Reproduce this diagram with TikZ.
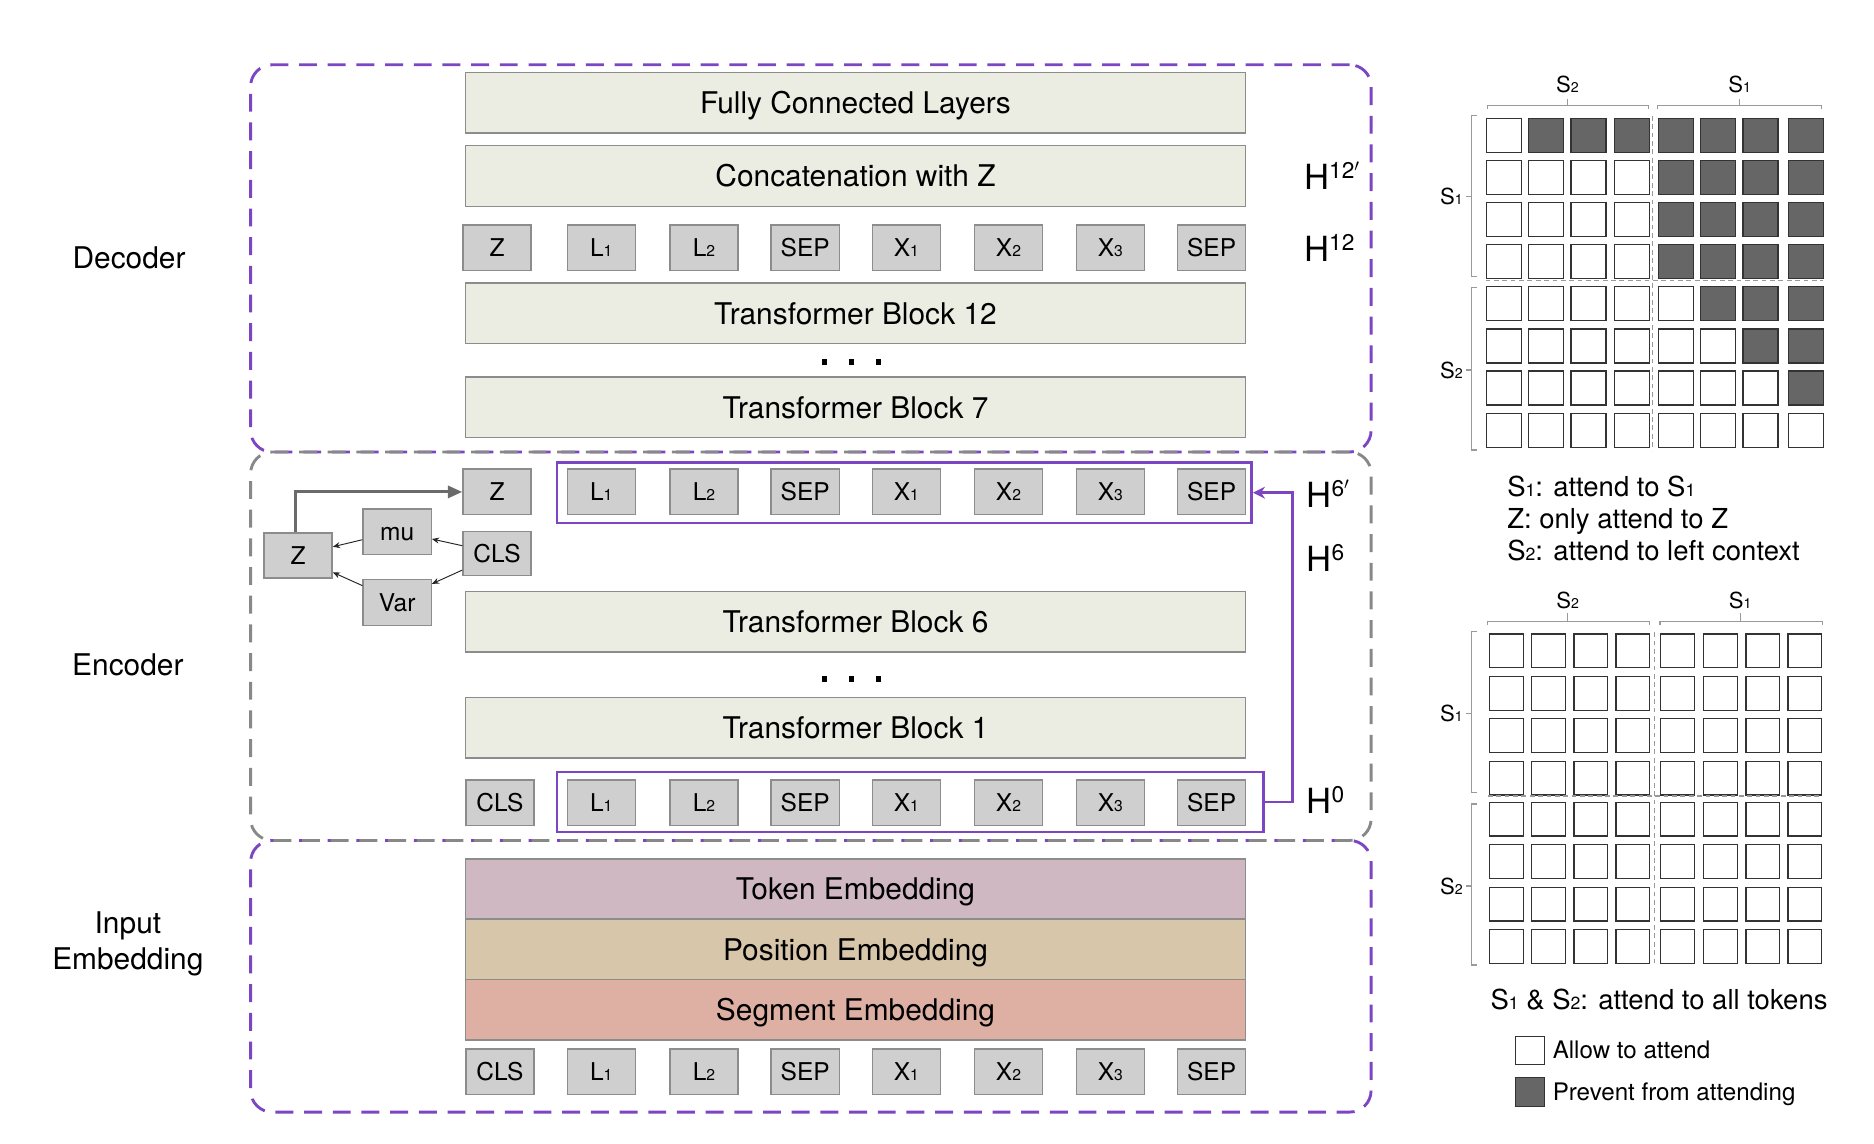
\documentclass[tikz,border=0pt]{standalone}
\usepackage{fontspec}
\setmainfont{TeX Gyre Heros}
\usepackage{graphicx}
\usetikzlibrary{arrows.meta,calc}
\definecolor{boxgreen}{HTML}{EBEDE3}
\definecolor{tokgray}{HTML}{CFCFCF}
\definecolor{edgegray}{HTML}{8C8C8C}
\definecolor{vpurple}{HTML}{7B45C3}
\definecolor{dashgray}{HTML}{888888}
\definecolor{tokemb}{HTML}{CFB8C2}
\definecolor{posemb}{HTML}{D8C6AA}
\definecolor{segemb}{HTML}{DEB0A4}
\definecolor{celldark}{HTML}{666666}
\definecolor{brkgray}{HTML}{9A9A9A}
\newcommand\sbs[1]{\scalebox{0.64}{#1}}
\newcommand\hsup[1]{\raisebox{9pt}{\fontsize{19}{19}\selectfont #1}}
\begin{document}
\begin{tikzpicture}[x=1pt,y=-1pt,
  wide/.style={draw=edgegray, line width=1.2pt, minimum width=653pt, minimum height=50.7pt,
    inner sep=0pt, anchor=north west, text height=18pt, text depth=0pt,
    font=\fontsize{25}{25}\selectfont},
  tok/.style={draw=edgegray, fill=tokgray, line width=1.2pt, minimum width=57pt,
    minimum height=38.2pt, inner sep=0pt, anchor=north west, text height=14.7pt,
    text depth=0pt, font=\fontsize{20.5}{20.5}\selectfont},
  region/.style={draw=#1, line width=2.4pt, dash pattern=on 15pt off 9pt,
    rounded corners=18pt, inner sep=0pt, anchor=north west, minimum width=937.5pt},
  hilite/.style={draw=vpurple, line width=2.3pt, inner sep=0pt, anchor=north west},
  hlab/.style={anchor=base west, inner sep=0pt, font=\fontsize{29}{29}\selectfont},
  side/.style={anchor=base, inner sep=0pt, font=\fontsize{25}{25}\selectfont},
  rtxt/.style={anchor=base west, inner sep=0pt, font=\fontsize{23}{23}\selectfont},
  ltxt/.style={anchor=base west, inner sep=0pt, font=\fontsize{20.2}{20.2}\selectfont},
  slab/.style={inner sep=0pt, font=\fontsize{18.5}{18.5}\selectfont},
  cell/.style={draw=black!80, line width=1pt, inner sep=0pt, anchor=north west},
  brk/.style={draw=brkgray, line width=1pt},
  sepline/.style={draw=black!40, line width=0.9pt, dash pattern=on 4pt off 3pt},
  thinarrow/.style={draw=black!85, line width=0.8pt, -{Stealth[length=6pt,width=5pt]}},
  thickarrow/.style={draw=black!58, line width=2.6pt, -{Triangle[length=12pt,width=10pt]}},
  purplearrow/.style={draw=vpurple, line width=2.3pt, -{Stealth[length=10pt,width=10pt]}},
  dotmark/.style={fill=black}
]
\useasboundingbox (0,0) rectangle (1568,957);

% region boxes
\node[region=vpurple, minimum height=324pt] (decbox) at (208.5,53) {};
\node[region=vpurple, minimum height=227.3pt] (inbox) at (208.5,702) {};
\node[region=dashgray, minimum height=325pt] (encbox) at (208.5,377) {};

% side labels
\node[side] (declab) at (108,225) {Decoder};
\node[side] (enclab) at (107,565) {Encoder};
\node[side] (inlab1) at (107,781) {Input};
\node[side] (inlab2) at (107,811) {Embedding};

% decoder
\node[wide, fill=boxgreen] (fcl) at (388.7,60) {Fully Connected Layers};
\node[wide, fill=boxgreen] (cat) at (388.7,121.3) {Concatenation with Z};
\node[wide, fill=boxgreen] (tb12) at (388.7,236.2) {Transformer Block 12};
\node[wide, fill=boxgreen] (tb7) at (388.7,314.9) {Transformer Block 7};
\foreach \dx in {690,712.4,735}{\fill[dotmark] (\dx-2.3,303-2.3) rectangle (\dx+2.3,303+2.3);}

% encoder
\node[wide, fill=boxgreen] (tb6) at (388.7,494.2) {Transformer Block 6};
\node[wide, fill=boxgreen] (tb1) at (388.7,582.9) {Transformer Block 1};
\foreach \dx in {690,712.4,735}{\fill[dotmark] (\dx-2.3,568-2.3) rectangle (\dx+2.3,568+2.3);}

% input embedding
\node[wide, fill=tokemb, minimum height=50.2pt] (temb) at (388.7,718.2) {Token Embedding};
\node[wide, fill=posemb, minimum height=50.7pt] (pemb) at (388.7,768.4) {Position Embedding};
\node[wide, fill=segemb, minimum height=50.5pt] (semb) at (388.7,819.1) {Segment Embedding};

% token rows
\node[tok] (dz) at (386.8,187.7) {Z};
\node[tok] (ez) at (386.8,391.9) {Z};
\node[tok] (ecls) at (389.2,652) {CLS};
\node[tok] (icls) at (389.2,877.1) {CLS};
\foreach \i/\lab/\x in {1/L\sbs{1}/474, 2/L\sbs{2}/559.9, 3/SEP/644.6, 4/X\sbs{1}/729.3,
    5/X\sbs{2}/814.7, 6/X\sbs{3}/900, 7/SEP/984.7}{
  \node[tok] (d\i) at (\x,187.7) {\lab};
  \node[tok] (e\i) at (\x,391.9) {\lab};
  \node[tok] (b\i) at (\x,652) {\lab};
  \node[tok] (in\i) at (\x,877.1) {\lab};
}

% highlight rectangles
\node[hilite, minimum width=581.3pt, minimum height=50.8pt] (ptop) at (464.8,385.7) {};
\node[hilite, minimum width=591.1pt, minimum height=50.2pt] (pbot) at (464.8,644.8) {};
\coordinate (turnx) at (1081.7,0);
\draw[purplearrow] (pbot.east) -| (turnx |- ptop.east) -- (ptop.east);

% mini graph
\node[tok, minimum height=37.6pt] (zl) at (220.3,445.4) {Z};
\node[tok] (mu) at (303.2,425.3) {mu};
\node[tok] (var) at (303.2,484.5) {Var};
\node[tok, minimum height=37pt] (cls2) at (386.8,444) {CLS};
\draw[thinarrow] ($(mu.west)+(0,6.6)$) -- ($(zl.east)+(0,-7.3)$);
\draw[thinarrow] ($(cls2.west)+(0,-6.5)$) -- ($(mu.east)+(0,6)$);
\draw[thinarrow] ($(cls2.west)+(0,13.9)$) -- ($(var.east)+(0,-15.7)$);
\draw[thinarrow] ($(var.west)+(0,-14.2)$) -- ($(zl.east)+(0,14.1)$);
\draw[thickarrow] ($(zl.north)+(-2,0)$) |- (ez.west);

% H labels
\node[hlab] (h12p) at (1091,158.4) {H\hsup{12$'$}};
\node[hlab] (h12) at (1091,219) {H\hsup{12}};
\node[hlab] (h6p) at (1093,424.5) {H\hsup{6$'$}};
\node[hlab] (h6) at (1093,478.3) {H\hsup{6}};
\node[hlab] (h0) at (1093,680.5) {H\hsup{0}};

% ---------- top attention matrix ----------
\foreach \r/\y/\t in {1/98.5/2, 2/133.9/5, 3/169/5, 4/203.9/5, 5/239.3/6, 6/274.7/7, 7/309.9/8, 8/345.3/9}{
  \foreach \c/\x in {1/1243.3, 2/1278.7, 3/1313.9, 4/1350.2, 5/1387, 6/1422.4, 7/1457.8, 8/1495.8}{
    \ifnum\c<\t\relax \def\cf{white}\else\def\cf{celldark}\fi
    \node[cell, fill=\cf, minimum width=29.3pt, minimum height=28.5pt] (ma\r\c) at (\x,\y) {};
  }
}
\draw[sepline] (1382.8,97) -- (1382.8,377);
\draw[sepline] (1243,234.8) -- (1525,234.8);
\draw[brk] (1244.4,91) -- (1244.4,88) -- (1379,88) -- (1379,91) (1311.5,88) -- (1311.5,83);
\draw[brk] (1387,91) -- (1387,88) -- (1524,88) -- (1524,91) (1455.5,88) -- (1455.5,83);
\draw[brk] (1235.6,96.8) -- (1231,96.8) -- (1231,231.5) -- (1235.6,231.5) (1231,164.6) -- (1227,164.6);
\draw[brk] (1235.6,240.7) -- (1231,240.7) -- (1231,376.5) -- (1235.6,376.5) (1231,309.6) -- (1227,309.6);
\node[slab] (ma_s2top) at (1311.5,71) {S\sbs{2}};
\node[slab] (ma_s1top) at (1455.5,71) {S\sbs{1}};
\node[slab, anchor=east] (ma_s1left) at (1224,164.6) {S\sbs{1}};
\node[slab, anchor=east] (ma_s2left) at (1224,309.6) {S\sbs{2}};

\node[rtxt] (t1) at (1261,415.5) {S\sbs{1}: attend to S\sbs{1}};
\node[rtxt] (t2) at (1261,442) {Z: only attend to Z};
\node[rtxt] (t3) at (1261,468.6) {S\sbs{2}: attend to left context};

% ---------- bottom attention matrix ----------
\foreach \r/\y in {1/530, 2/565.6, 3/601, 4/636.5, 5/670.8, 6/706.2, 7/741.9, 8/777.3}{
  \foreach \c/\x in {1/1245.8, 2/1281, 3/1316.4, 4/1351.6, 5/1389, 6/1425, 7/1460.4, 8/1495.5}{
    \node[cell, fill=white, minimum width=28.2pt, minimum height=28.2pt] (mb\r\c) at (\x,\y) {};
  }
}
\draw[sepline] (1384.2,529) -- (1384.2,807);
\draw[sepline] (1245,666) -- (1524,666);
\draw[brk] (1244.8,523) -- (1244.8,520) -- (1380,520) -- (1380,523) (1311.7,520) -- (1311.7,513);
\draw[brk] (1389,523) -- (1389,520) -- (1524.7,520) -- (1524.7,523) (1456,520) -- (1456,513);
\draw[brk] (1235.6,528.5) -- (1231.3,528.5) -- (1231.3,663) -- (1235.6,663) (1231.3,596.8) -- (1227,596.8);
\draw[brk] (1235.6,672.7) -- (1231.3,672.7) -- (1231.3,807.4) -- (1235.6,807.4) (1231.3,741.3) -- (1227,741.3);
\node[slab] (mb_s2top) at (1311.7,502) {S\sbs{2}};
\node[slab] (mb_s1top) at (1456,502) {S\sbs{1}};
\node[slab, anchor=east] (mb_s1left) at (1224,596.8) {S\sbs{1}};
\node[slab, anchor=east] (mb_s2left) at (1224,741.3) {S\sbs{2}};

\node[rtxt] (t4) at (1247,844.5) {S\sbs{1} \& S\sbs{2}: attend to all tokens};

% legend
\node[cell, fill=white, minimum width=24.3pt, minimum height=24pt] (leg1) at (1267.6,866.5) {};
\node[cell, fill=celldark, minimum width=24.3pt, minimum height=24.2pt] (leg2) at (1267.6,900.8) {};
\node[ltxt] (l1) at (1299,885.3) {Allow to attend};
\node[ltxt] (l2) at (1299,921) {Prevent from attending};
\end{tikzpicture}
\end{document}
